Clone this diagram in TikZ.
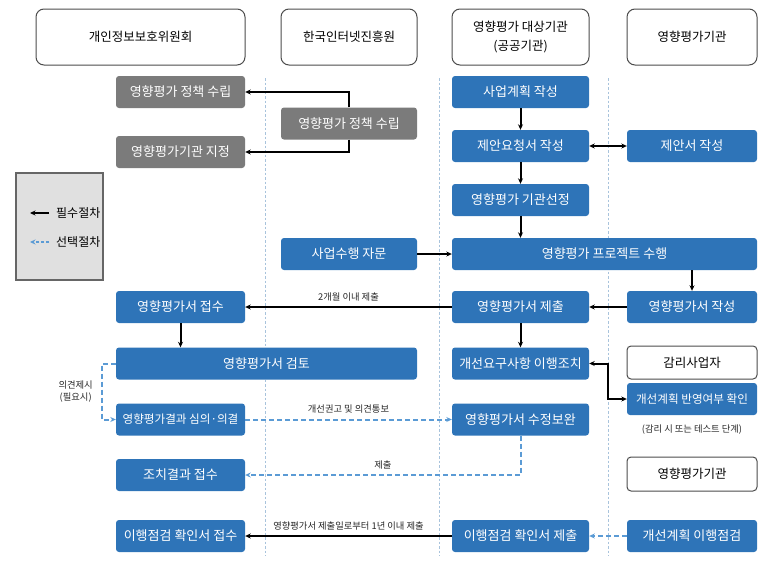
\documentclass[tikz,border=0pt]{standalone}
\usepackage{fontspec}
\setmainfont{Noto Sans CJK KR}
\usetikzlibrary{arrows.meta}
\definecolor{boxblue}{HTML}{2E74B8}
\definecolor{boxgray}{HTML}{7B7B7B}
\definecolor{optblue}{HTML}{5B9BD5}
\definecolor{sepblue}{HTML}{A8C3DC}

\begin{document}
\begin{tikzpicture}[x=1pt,y=-1pt,>={Stealth[length=5.5pt,width=5pt]},
    hd/.style={draw=black!70,line width=1pt,rounded corners=8pt,fill=white,minimum height=56pt,align=center,font=\fontsize{12.5}{19}\selectfont},
    wb/.style={hd,minimum height=33pt,rounded corners=4pt},
    bx/.style={fill=boxblue,text=white,rounded corners=3pt,minimum height=32pt,inner sep=0pt,font=\fontsize{13}{15}\selectfont},
    gx/.style={bx,fill=boxgray},
    nb/.style={font=\fontsize{11.6}{14}\selectfont},
    req/.style={->,line width=2pt},
    opt/.style={->,line width=2pt,draw=optblue,dash pattern=on 5pt off 3pt},
    sep/.style={sepblue,line width=0.8pt,dash pattern=on 2.5pt off 2pt},
    lbl/.style={text=black!85,inner sep=2pt,font=\fontsize{9.3}{12}\selectfont}]
\useasboundingbox (0,0) rectangle (775,562);

% swimlanes
\draw[sep] (265,78) -- (265,556);
\draw[sep] (439,78) -- (439,556);
\draw[sep] (608,78) -- (608,556);

% headers
\node[hd,minimum width=209pt] (h1) at (140.5,37) {개인정보보호위원회};
\node[hd,minimum width=136pt] (h2) at (349,37) {한국인터넷진흥원};
\node[hd,minimum width=137pt] (h3) at (520.5,37) {영향평가 대상기관\\(공공기관)};
\node[hd,minimum width=130pt] (h4) at (692,37) {영향평가기관};

% legend
\draw[fill=black!12,draw=black!60,line width=1.6pt] (16,173) rectangle (103,280);
\node[font=\fontsize{12}{14}\selectfont,anchor=west,inner sep=0pt] (k1) at (56,213) {필수절차};
\node[font=\fontsize{12}{14}\selectfont,anchor=west,inner sep=0pt] (k2) at (56,242) {선택절차};
\draw[req] ([xshift=-7pt]k1.west) -- ++(-19,0);
\draw[opt,dash pattern=on 3pt off 2pt] ([xshift=-7pt]k2.west) -- ++(-19,0);

% 개인정보보호위원회
\node[gx,minimum width=129pt] (p1) at (180.5,92) {영향평가 정책 수립};
\node[gx,minimum width=129pt] (p3) at (180.5,152) {영향평가기관 지정};
\node[bx,minimum width=129pt] (l1) at (180.5,307) {영향평가서 접수};
\node[bx,minimum width=301pt] (l2) at (266.5,363.5) {영향평가서 검토};
\node[bx,nb,minimum width=129pt] (l3) at (180.5,419.5) {영향평가결과 심의·의결};
\node[bx,minimum width=129pt] (l4) at (180.5,475) {조치결과 접수};
\node[bx,minimum width=129pt] (l5) at (180.5,536) {이행점검 확인서 접수};

% 한국인터넷진흥원
\node[gx,minimum width=136pt] (p2) at (349,123.5) {영향평가 정책 수립};
\node[bx,minimum width=136pt] (a2) at (349,254) {사업수행 자문};

% 영향평가 대상기관
\node[bx,minimum width=137pt] (b1) at (520.5,92) {사업계획 작성};
\node[bx,minimum width=137pt] (b2) at (520.5,146) {제안요청서 작성};
\node[bx,minimum width=137pt] (b3) at (520.5,200) {영향평가 기관선정};
\node[bx,minimum width=305pt] (b4) at (604.5,254) {영향평가 프로젝트 수행};
\node[bx,minimum width=137pt] (b5) at (520.5,307) {영향평가서 제출};
\node[bx,minimum width=137pt] (b6) at (520.5,363.5) {개선요구사항 이행조치};
\node[bx,minimum width=137pt] (b7) at (520.5,419.5) {영향평가서 수정보완};
\node[bx,minimum width=137pt] (b8) at (520.5,536) {이행점검 확인서 제출};

% 영향평가기관 / 감리사업자
\node[bx,minimum width=130pt] (c1) at (692,146) {제안서 작성};
\node[bx,minimum width=130pt] (c2) at (692,307) {영향평가서 작성};
\node[wb,minimum width=130pt] (c3) at (692,362.5) {감리사업자};
\node[bx,nb,minimum width=130pt] (c4) at (692,399) {개선계획 반영여부 확인};
\node[lbl] (n1) at (692,430) {(감리 시 또는 테스트 단계)};
\node[wb,minimum width=130pt,minimum height=34pt] (c5) at (692,474) {영향평가기관};
\node[bx,minimum width=130pt] (c6) at (692,536) {개선계획 이행점검};

% connectors
\draw[req] (p2.north) |- (p1.east);
\draw[req] (p2.south) |- (p3.east);
\draw[req] (b1) -- (b2);
\draw[<->,line width=2pt] (b2) -- (c1);
\draw[req] (b2) -- (b3);
\draw[req] (b3) -- (b3 |- b4.north);
\draw[req] (a2) -- (b4.west |- a2);
\draw[req] (c2 |- b4.south) -- (c2);
\draw[req] (c2) -- (b5);
\draw[req] (b5) -- node[lbl,above=3pt]{2개월 이내 제출} (l1);
\draw[req] (l1) -- (l1 |- l2.north);
\draw[req] (b5) -- (b6);
\draw[<->,line width=2pt] (b6.east) -- ++(19,0) |- (c4.west);
\draw[opt] (l2.west) -- ++(-14,0) |- node[pos=0.25,left=6pt,lbl,align=center]{의견제시\\(필요시)} (l3.west);
\draw[opt] (l3) -- node[lbl,above=3pt]{개선권고 및 의견통보} (b7);
\draw[opt] (b7.south) |- node[pos=0.75,lbl,above=3pt]{제출} (l4.east);
\draw[opt] (c6) -- (b8);
\draw[req] (b8) -- node[lbl,above=3pt]{영향평가서 제출일로부터 1년 이내 제출} (l5);
\end{tikzpicture}
\end{document}
